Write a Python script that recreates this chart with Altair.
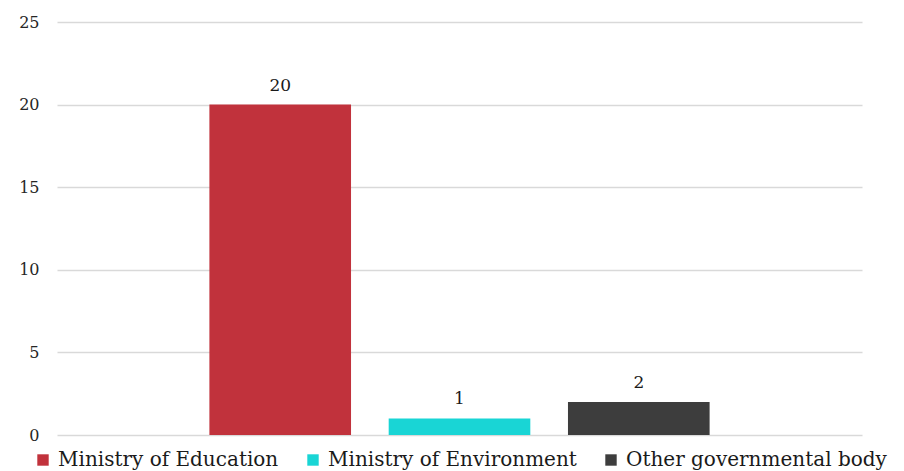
import altair as alt
import pandas as pd

categories = ["Ministry of Education", "Ministry of Environment", "Other governmental body"]
values = [20, 1, 2]
colors = ["#C1323C", "#19D5D5", "#3D3D3D"]

df = pd.DataFrame({"body": categories, "count": values})

FONT = "DejaVu Serif"

x_enc = alt.X(
    "body:N",
    sort=categories,
    scale=alt.Scale(paddingInner=0.21, paddingOuter=0.85),
    axis=None,
)

y_scale = alt.Scale(domain=[0, 25], nice=False, zero=True)

y_axis = alt.Axis(
    values=[0, 5, 10, 15, 20, 25],
    title=None,
    domain=False,
    ticks=False,
    labelPadding=18,
    labelFont=FONT,
    labelFontSize=16,
    labelColor="#262626",
    gridColor="#D9D9D9",
    gridWidth=1.5,
)

bars = alt.Chart(df).mark_bar().encode(
    x=x_enc,
    y=alt.Y("count:Q", scale=y_scale, axis=y_axis),
    color=alt.Color(
        "body:N",
        sort=categories,
        scale=alt.Scale(domain=categories, range=colors),
        legend=alt.Legend(
            title=None,
            orient="none",
            direction="horizontal",
            legendX=-24,
            legendY=428,
            symbolType="square",
            symbolSize=130,
            symbolStrokeWidth=0,
            labelFont=FONT,
            labelFontSize=20,
            labelColor="#1A1A1A",
            labelLimit=400,
            columnPadding=24,
            symbolOffset=0,
            labelOffset=5,
        ),
    ),
)

labels = alt.Chart(df).mark_text(
    baseline="bottom", dy=-10, font=FONT, fontSize=17, color="#1A1A1A"
).encode(
    x=x_enc,
    y=alt.Y("count:Q", scale=y_scale, axis=y_axis),
    text=alt.Text("count:Q"),
)

chart = (
    alt.layer(bars, labels)
    .properties(
        width=805,
        height=413,
        autosize=alt.AutoSizeParams(type="none"),
        padding={"left": 57, "top": 22, "right": 42, "bottom": 36},
        view=alt.ViewBackground(stroke=None, fill="white"),
    )
    .configure_view(stroke=None)
    .configure_axis(domain=False)
    .configure(background="white")
)

chart.save("out.html", embed_options={"renderer": "svg", "actions": False})
